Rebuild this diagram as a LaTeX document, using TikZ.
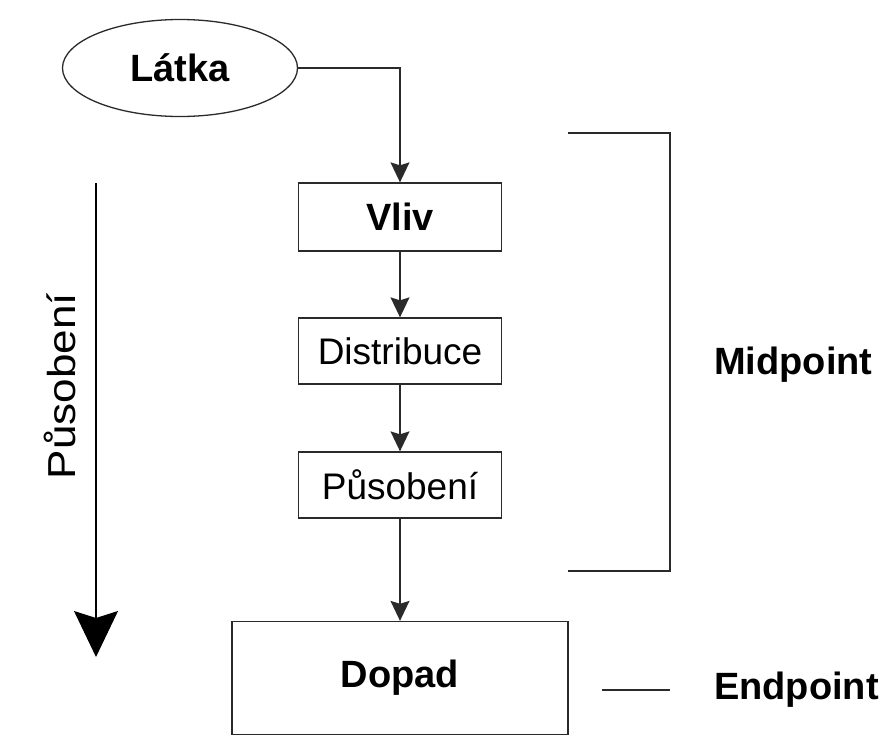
\documentclass[tikz,border=0pt]{standalone}
\usepackage{fontspec}
\setmainfont{Liberation Sans}
\usetikzlibrary{arrows.meta,shapes.geometric}
\definecolor{linec}{HTML}{2A2A2A}
\tikzset{
  box/.style={draw=linec,line width=1.3pt,rectangle,inner sep=0pt,font=\fontsize{37}{44}\selectfont},
  conn/.style={draw=linec,line width=1.3pt,-{Stealth[length=20pt,width=19pt,inset=3pt]}},
  brk/.style={draw=linec,line width=1.3pt},
  lbl/.style={inner sep=0pt,font=\fontsize{38}{44}\selectfont\bfseries},
}
\begin{document}
\begin{tikzpicture}[x=1pt,y=-1pt]
\useasboundingbox (0,0) rectangle (889,745);
\node[box,ellipse,minimum width=235pt,minimum height=97pt,font=\fontsize{38}{44}\selectfont\bfseries] (latka) at (180,68) {Látka};
\node[box,minimum width=203pt,minimum height=68pt,font=\fontsize{38}{44}\selectfont\bfseries] (vliv) at (400,217) {Vliv};
\node[box,minimum width=203pt,minimum height=66pt] (dist) at (400,351) {Distribuce};
\node[box,minimum width=203pt,minimum height=66pt] (pus) at (400,485) {Působení};
\node[box,minimum width=336pt,minimum height=113pt,font=\fontsize{38}{44}\selectfont\bfseries] (dopad) at (400,678) {Dopad};
\draw[conn] (latka.east) -| (vliv.north);
\draw[conn] (vliv.south) -- (dist.north);
\draw[conn] (dist.south) -- (pus.north);
\draw[conn] (pus.south) -- (dopad.north);
% bracket
\coordinate (b1) at (568,133);
\coordinate (b2) at (670,133);
\coordinate (b3) at (670,571);
\coordinate (b4) at (568,571);
\draw[brk] (b1) -- (b2) -- (b3) -- (b4);
\node[lbl,anchor=west] (mid) at (714,365) {Midpoint};
\coordinate (e1) at (602,690);
\coordinate (e2) at (670,690);
\draw[brk] (e1) -- (e2);
\node[lbl,anchor=west] (endp) at (714,690) {Endpoint};
% left arrow
\coordinate (a1) at (96,183);
\coordinate (a2) at (96,657);
\draw[draw=black,line width=1.3pt,-{Stealth[length=46pt,width=44pt,inset=7pt]}] (a1) -- (a2);
\node[inner sep=0pt,rotate=90,font=\fontsize{39}{44}\selectfont] (pusl) at (60,386) {\scalebox{1.13}[1]{Působení}};
\end{tikzpicture}
\end{document}
